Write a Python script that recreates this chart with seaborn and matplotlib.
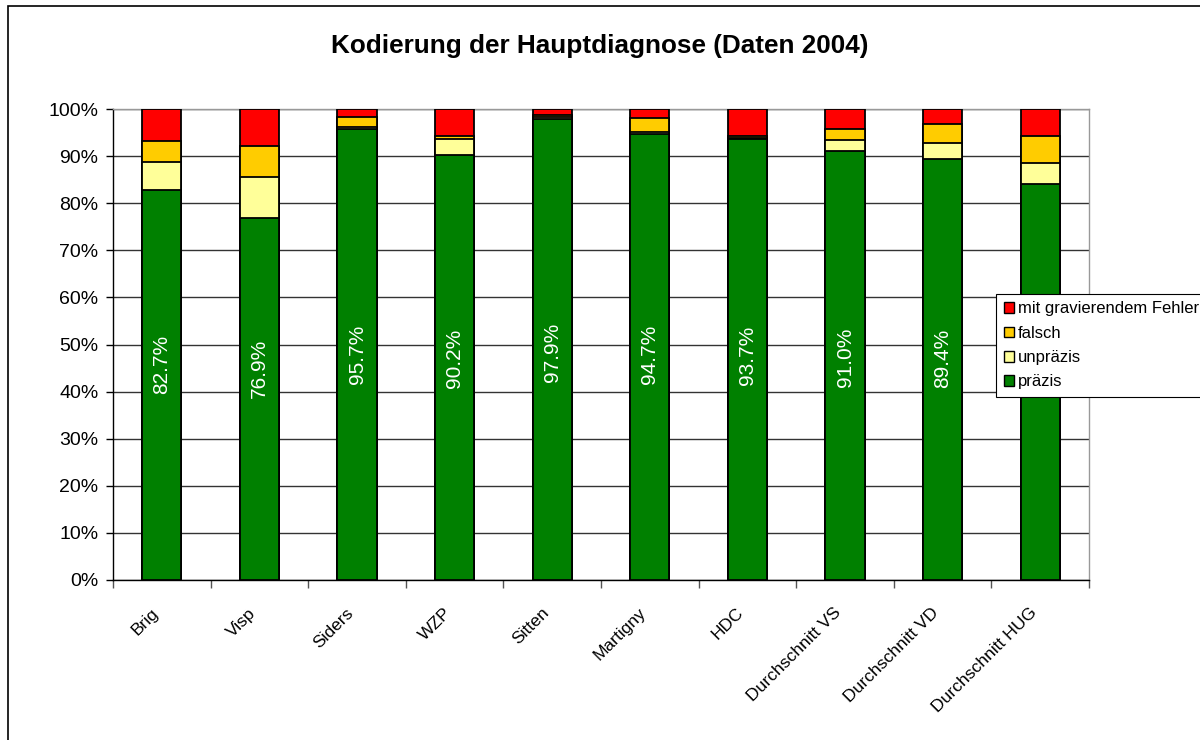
import matplotlib
matplotlib.use("Agg")
import matplotlib.pyplot as plt
import matplotlib.transforms as mtransforms
import seaborn as sns
import pandas as pd
import numpy as np
from matplotlib.patches import Patch, Rectangle

categories = ["Brig", "Visp", "Siders", "WZP", "Sitten", "Martigny", "HDC",
              "Durchschnitt VS", "Durchschnitt VD", "Durchschnitt HUG"]
praezis = [82.7, 76.9, 95.7, 90.2, 97.9, 94.7, 93.7, 91.0, 89.4, 84.1]
unpraezis = [6.0, 8.7, 0.5, 3.4, 0.4, 0.5, 0.2, 2.5, 3.4, 4.5]
falsch = [4.4, 6.6, 2.1, 0.7, 0.5, 2.9, 0.3, 2.3, 4.0, 5.7]
fehler = [6.9, 7.8, 1.7, 5.7, 1.2, 1.9, 5.8, 4.2, 3.2, 5.7]
bar_labels = ["82.7%", "76.9%", "95.7%", "90.2%", "97.9%", "94.7%", "93.7%",
              "91.0%", "89.4%", ""]
series_names = ["präzis", "unpräzis", "falsch", "mit gravierendem Fehler"]
colors = ["#008000", "#FFFF99", "#FFCC00", "#FF0000"]
yticks = [0, 10, 20, 30, 40, 50, 60, 70, 80, 90, 100]
ytick_labels = ["0%", "10%", "20%", "30%", "40%", "50%", "60%", "70%", "80%", "90%", "100%"]
title = "Kodierung der Hauptdiagnose (Daten 2004)"

sns.set_theme(style="white")
plt.rcParams["font.family"] = ["Liberation Sans", "DejaVu Sans"]
plt.rcParams["text.color"] = "black"
plt.rcParams["xtick.color"] = "black"
plt.rcParams["ytick.color"] = "black"
plt.rcParams["axes.labelcolor"] = "black"

df = pd.DataFrame({"cat": categories, "p": praezis, "u": unpraezis,
                   "f": falsch, "e": fehler})
df["c1"] = df["p"]
df["c2"] = df["c1"] + df["u"]
df["c3"] = df["c2"] + df["f"]
df["c4"] = df["c3"] + df["e"]

fig = plt.figure(figsize=(12, 7.4), dpi=100)
ax = fig.add_axes([113/1200, 1 - 580/740, (1089-113)/1200, (580-109)/740])

for col, color in zip(["c4", "c3", "c2", "c1"], colors[::-1]):
    sns.barplot(data=df, x="cat", y=col, color=color, saturation=1,
                width=0.4, edgecolor="black", linewidth=1.3, ax=ax,
                errorbar=None, zorder=3)

# data labels (Excel places rotated labels slightly above the segment middle)
for i, (v, lab) in enumerate(zip(praezis, bar_labels)):
    if lab:
        ax.text(i, 32.3 + 0.164 * v, lab, rotation=90, color="white",
                ha="center", va="center", fontsize=15, zorder=5)

ax.set_xlim(-0.5, len(categories) - 0.5)
ax.set_ylim(0, 100)
ax.set_yticks(yticks)
ax.set_yticklabels(ytick_labels, fontsize=14)
ax.yaxis.grid(True, color="#333333", linewidth=1.0, zorder=0)
ax.set_axisbelow(True)
ax.set_xlabel("")
ax.set_ylabel("")

ax.set_xticks(np.arange(-0.5, len(categories), 1.0))
ax.set_xticklabels([])
ax.set_xticks(np.arange(len(categories)), minor=True)
ax.set_xticklabels(categories, minor=True, rotation=45, ha="right",
                   va="center", rotation_mode="anchor", fontsize=12.6)
ax.tick_params(axis="x", which="major", direction="out", length=6,
               width=1, color="#555555", bottom=True)
ax.tick_params(axis="x", which="minor", length=0, pad=22)
ax.tick_params(axis="y", direction="out", length=5, width=1,
               color="black", left=True, pad=5.5)
shift = mtransforms.ScaledTranslation(-6/100, 0, fig.dpi_scale_trans)
for lbl in ax.get_xticklabels(minor=True):
    lbl.set_transform(lbl.get_transform() + shift)

for s in ["left", "bottom"]:
    ax.spines[s].set_color("black")
    ax.spines[s].set_linewidth(1.0)
for s in ["right", "top"]:
    ax.spines[s].set_visible(True)
    ax.spines[s].set_color("#999999")
    ax.spines[s].set_linewidth(1.0)

fig.text(0.5, 1 - 46/740, title, ha="center", va="center",
         fontsize=18.8, fontweight="bold")

handles = [Patch(facecolor=c, edgecolor="black", linewidth=1.0)
           for c in colors[::-1]]
leg = fig.legend(handles, series_names[::-1], loc="upper left",
                 bbox_to_anchor=(996/1200, 1 - 294/740), fontsize=12,
                 frameon=True, fancybox=False, edgecolor="black",
                 framealpha=1, shadow=False, handlelength=0.6,
                 handleheight=0.6, handletextpad=0.25, labelspacing=0.56,
                 borderpad=0.45, borderaxespad=0)
leg.get_frame().set_linewidth(0.8)

fig.patches.append(Rectangle((8/1200, -0.5), 2, 0.5 + 1 - 6/740,
                             transform=fig.transFigure, fill=False,
                             edgecolor="black", linewidth=1.2))

fig.savefig("out.png", dpi=100)
